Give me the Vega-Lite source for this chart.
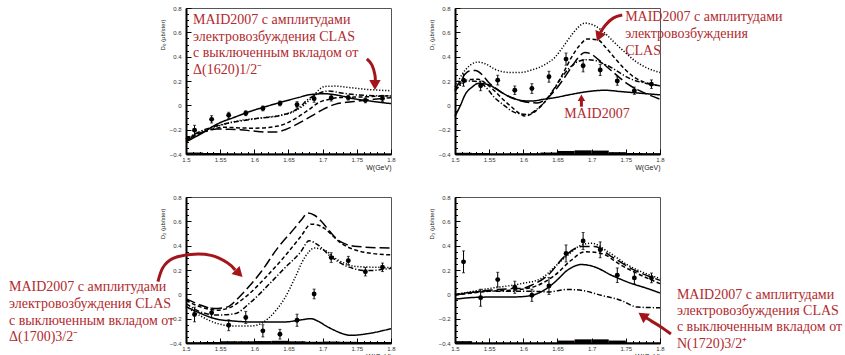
{
"$schema": "https://vega.github.io/schema/vega-lite/v6.json",
"padding": {"left": 8, "top": 4, "right": 5, "bottom": 5},
"background": "white",
"config": {"view": {"stroke": "#555", "strokeWidth": 1}},
"columns": 2,
"spacing": {"row": 43, "column": 64},
"bounds": "flush",
"datasets": {
"s0": [{"W0":1.5,"W1":1.525,"top":-0.388},{"W0":1.525,"W1":1.55,"top":-0.392},{"W0":1.55,"W1":1.575,"top":-0.395},{"W0":1.575,"W1":1.6,"top":-0.397},{"W0":1.6,"W1":1.625,"top":-0.397},{"W0":1.625,"W1":1.65,"top":-0.397},{"W0":1.65,"W1":1.675,"top":-0.396},{"W0":1.675,"W1":1.7,"top":-0.396},{"W0":1.7,"W1":1.725,"top":-0.396},{"W0":1.725,"W1":1.75,"top":-0.397},{"W0":1.75,"W1":1.775,"top":-0.397},{"W0":1.775,"W1":1.8,"top":-0.397}],
"s1": [{"W0":1.5,"W1":1.525,"top":-0.39},{"W0":1.525,"W1":1.55,"top":-0.392},{"W0":1.55,"W1":1.575,"top":-0.395},{"W0":1.575,"W1":1.6,"top":-0.395},{"W0":1.6,"W1":1.625,"top":-0.394},{"W0":1.625,"W1":1.65,"top":-0.388},{"W0":1.65,"W1":1.675,"top":-0.375},{"W0":1.675,"W1":1.7,"top":-0.37},{"W0":1.7,"W1":1.725,"top":-0.372},{"W0":1.725,"W1":1.75,"top":-0.385},{"W0":1.75,"W1":1.775,"top":-0.392},{"W0":1.775,"W1":1.8,"top":-0.394}],
"s2": [{"W0":1.5,"W1":1.525,"top":-0.394},{"W0":1.525,"W1":1.55,"top":-0.392},{"W0":1.55,"W1":1.575,"top":-0.386},{"W0":1.575,"W1":1.6,"top":-0.386},{"W0":1.6,"W1":1.625,"top":-0.384},{"W0":1.625,"W1":1.65,"top":-0.382},{"W0":1.65,"W1":1.675,"top":-0.386},{"W0":1.675,"W1":1.7,"top":-0.39},{"W0":1.7,"W1":1.725,"top":-0.388},{"W0":1.725,"W1":1.75,"top":-0.39},{"W0":1.75,"W1":1.775,"top":-0.392},{"W0":1.775,"W1":1.8,"top":-0.392}],
"s3": [{"W0":1.5,"W1":1.525,"top":-0.385},{"W0":1.525,"W1":1.55,"top":-0.396},{"W0":1.55,"W1":1.575,"top":-0.396},{"W0":1.575,"W1":1.6,"top":-0.396},{"W0":1.6,"W1":1.625,"top":-0.396},{"W0":1.625,"W1":1.65,"top":-0.396},{"W0":1.65,"W1":1.675,"top":-0.38},{"W0":1.675,"W1":1.7,"top":-0.37},{"W0":1.7,"W1":1.725,"top":-0.37},{"W0":1.725,"W1":1.75,"top":-0.38},{"W0":1.75,"W1":1.775,"top":-0.396},{"W0":1.775,"W1":1.8,"top":-0.396}],
"p0": [{"W":1.5125,"y":-0.204,"e":0.04},{"W":1.5375,"y":-0.115,"e":0.03},{"W":1.5625,"y":-0.082,"e":0.025},{"W":1.5875,"y":-0.065,"e":0.02},{"W":1.6125,"y":-0.025,"e":0.02},{"W":1.6375,"y":0.016,"e":0.02},{"W":1.6625,"y":0.005,"e":0.025},{"W":1.6875,"y":0.055,"e":0.03},{"W":1.7125,"y":0.06,"e":0.025},{"W":1.7375,"y":0.063,"e":0.02},{"W":1.7625,"y":0.041,"e":0.02},{"W":1.7875,"y":0.057,"e":0.025}],
"p1": [{"W":1.5125,"y":0.207,"e":0.05},{"W":1.5375,"y":0.16,"e":0.04},{"W":1.5625,"y":0.207,"e":0.04},{"W":1.5875,"y":0.124,"e":0.035},{"W":1.6125,"y":0.138,"e":0.04},{"W":1.6375,"y":0.235,"e":0.045},{"W":1.6625,"y":0.38,"e":0.05},{"W":1.6875,"y":0.325,"e":0.05},{"W":1.7125,"y":0.29,"e":0.045},{"W":1.7375,"y":0.2,"e":0.035},{"W":1.7625,"y":0.12,"e":0.03},{"W":1.7875,"y":0.174,"e":0.035}],
"p2": [{"W":1.5125,"y":-0.166,"e":0.06},{"W":1.5375,"y":-0.152,"e":0.04},{"W":1.5625,"y":-0.254,"e":0.045},{"W":1.5875,"y":-0.19,"e":0.05},{"W":1.6125,"y":-0.3,"e":0.05},{"W":1.6375,"y":-0.328,"e":0.04},{"W":1.6625,"y":-0.213,"e":0.05},{"W":1.6875,"y":0.003,"e":0.04},{"W":1.7125,"y":0.302,"e":0.04},{"W":1.7375,"y":0.277,"e":0.035},{"W":1.7625,"y":0.186,"e":0.035},{"W":1.7875,"y":0.222,"e":0.035}],
"p3": [{"W":1.5125,"y":0.267,"e":0.09},{"W":1.5375,"y":-0.028,"e":0.07},{"W":1.5625,"y":0.121,"e":0.06},{"W":1.5875,"y":0.058,"e":0.05},{"W":1.6125,"y":-0.008,"e":0.05},{"W":1.6375,"y":0.069,"e":0.07},{"W":1.6625,"y":0.336,"e":0.07},{"W":1.6875,"y":0.438,"e":0.07},{"W":1.7125,"y":0.366,"e":0.065},{"W":1.7375,"y":0.157,"e":0.06},{"W":1.7625,"y":0.135,"e":0.05},{"W":1.7875,"y":0.135,"e":0.04}],
"c0": [
{"m":"MAID2007","W":1.5,"y":-0.3},{"m":"MAID2007","W":1.52,"y":-0.24},{"m":"MAID2007","W":1.547,"y":-0.15},{"m":"MAID2007","W":1.57,"y":-0.1},{"m":"MAID2007","W":1.596,"y":-0.046},{"m":"MAID2007","W":1.62,"y":-0.005},{"m":"MAID2007","W":1.645,"y":0.035},{"m":"MAID2007","W":1.665,"y":0.065},{"m":"MAID2007","W":1.684,"y":0.09},{"m":"MAID2007","W":1.703,"y":0.095},{"m":"MAID2007","W":1.725,"y":0.08},{"m":"MAID2007","W":1.743,"y":0.057},{"m":"MAID2007","W":1.77,"y":0.035},{"m":"MAID2007","W":1.8,"y":0.014},
{"m":"noD1700","W":1.5,"y":-0.29},{"m":"noD1700","W":1.527,"y":-0.217},{"m":"noD1700","W":1.545,"y":-0.195},{"m":"noD1700","W":1.561,"y":-0.196},{"m":"noD1700","W":1.58,"y":-0.2},{"m":"noD1700","W":1.596,"y":-0.21},{"m":"noD1700","W":1.615,"y":-0.22},{"m":"noD1700","W":1.63,"y":-0.22},{"m":"noD1700","W":1.645,"y":-0.2},{"m":"noD1700","W":1.659,"y":-0.165},{"m":"noD1700","W":1.672,"y":-0.125},{"m":"noD1700","W":1.684,"y":-0.087},{"m":"noD1700","W":1.7,"y":-0.035},{"m":"noD1700","W":1.718,"y":0.008},{"m":"noD1700","W":1.735,"y":0.025},{"m":"noD1700","W":1.752,"y":0.035},{"m":"noD1700","W":1.775,"y":0.05},{"m":"noD1700","W":1.8,"y":0.063},
{"m":"CLAS","W":1.5,"y":-0.277},{"m":"CLAS","W":1.53,"y":-0.21},{"m":"CLAS","W":1.556,"y":-0.18},{"m":"CLAS","W":1.58,"y":-0.186},{"m":"CLAS","W":1.6,"y":-0.188},{"m":"CLAS","W":1.635,"y":-0.17},{"m":"CLAS","W":1.65,"y":-0.14},{"m":"CLAS","W":1.664,"y":-0.095},{"m":"CLAS","W":1.68,"y":-0.035},{"m":"CLAS","W":1.694,"y":0.022},{"m":"CLAS","W":1.71,"y":0.05},{"m":"CLAS","W":1.723,"y":0.063},{"m":"CLAS","W":1.762,"y":0.07},{"m":"CLAS","W":1.8,"y":0.08},
{"m":"noD1620","W":1.5,"y":-0.28},{"m":"noD1620","W":1.525,"y":-0.21},{"m":"noD1620","W":1.547,"y":-0.17},{"m":"noD1620","W":1.576,"y":-0.128},{"m":"noD1620","W":1.615,"y":-0.1},{"m":"noD1620","W":1.64,"y":-0.08},{"m":"noD1620","W":1.654,"y":-0.06},{"m":"noD1620","W":1.67,"y":-0.01},{"m":"noD1620","W":1.684,"y":0.063},{"m":"noD1620","W":1.695,"y":0.13},{"m":"noD1620","W":1.703,"y":0.155},{"m":"noD1620","W":1.72,"y":0.158},{"m":"noD1620","W":1.733,"y":0.15},{"m":"noD1620","W":1.767,"y":0.13},{"m":"noD1620","W":1.8,"y":0.12},
{"m":"noN1720","W":1.5,"y":-0.275},{"m":"noN1720","W":1.525,"y":-0.205},{"m":"noN1720","W":1.547,"y":-0.165},{"m":"noN1720","W":1.596,"y":-0.115},{"m":"noN1720","W":1.645,"y":-0.074},{"m":"noN1720","W":1.665,"y":-0.02},{"m":"noN1720","W":1.679,"y":0.05},{"m":"noN1720","W":1.695,"y":0.1},{"m":"noN1720","W":1.708,"y":0.117},{"m":"noN1720","W":1.73,"y":0.1},{"m":"noN1720","W":1.752,"y":0.085},{"m":"noN1720","W":1.8,"y":0.076}],
"c1": [
{"m":"MAID2007","W":1.5,"y":-0.09},{"m":"MAID2007","W":1.508,"y":0.0},{"m":"MAID2007","W":1.515,"y":0.09},{"m":"MAID2007","W":1.525,"y":0.15},{"m":"MAID2007","W":1.534,"y":0.18},{"m":"MAID2007","W":1.549,"y":0.17},{"m":"MAID2007","W":1.56,"y":0.135},{"m":"MAID2007","W":1.573,"y":0.09},{"m":"MAID2007","W":1.585,"y":0.06},{"m":"MAID2007","W":1.597,"y":0.04},{"m":"MAID2007","W":1.612,"y":0.035},{"m":"MAID2007","W":1.63,"y":0.05},{"m":"MAID2007","W":1.646,"y":0.063},{"m":"MAID2007","W":1.67,"y":0.09},{"m":"MAID2007","W":1.694,"y":0.113},{"m":"MAID2007","W":1.719,"y":0.124},{"m":"MAID2007","W":1.743,"y":0.113},{"m":"MAID2007","W":1.77,"y":0.1},{"m":"MAID2007","W":1.8,"y":0.086},
{"m":"noD1700","W":1.5,"y":0.13},{"m":"noD1700","W":1.51,"y":0.22},{"m":"noD1700","W":1.52,"y":0.28},{"m":"noD1700","W":1.53,"y":0.286},{"m":"noD1700","W":1.54,"y":0.25},{"m":"noD1700","W":1.549,"y":0.19},{"m":"noD1700","W":1.56,"y":0.14},{"m":"noD1700","W":1.573,"y":0.09},{"m":"noD1700","W":1.597,"y":0.036},{"m":"noD1700","W":1.62,"y":0.02},{"m":"noD1700","W":1.633,"y":0.05},{"m":"noD1700","W":1.646,"y":0.12},{"m":"noD1700","W":1.658,"y":0.21},{"m":"noD1700","W":1.67,"y":0.31},{"m":"noD1700","W":1.68,"y":0.39},{"m":"noD1700","W":1.69,"y":0.435},{"m":"noD1700","W":1.7,"y":0.42},{"m":"noD1700","W":1.709,"y":0.38},{"m":"noD1700","W":1.729,"y":0.284},{"m":"noD1700","W":1.753,"y":0.174},{"m":"noD1700","W":1.782,"y":0.09},{"m":"noD1700","W":1.8,"y":0.05},
{"m":"CLAS","W":1.5,"y":0.12},{"m":"CLAS","W":1.515,"y":0.207},{"m":"CLAS","W":1.534,"y":0.215},{"m":"CLAS","W":1.545,"y":0.18},{"m":"CLAS","W":1.558,"y":0.118},{"m":"CLAS","W":1.57,"y":0.05},{"m":"CLAS","W":1.583,"y":-0.014},{"m":"CLAS","W":1.595,"y":-0.07},{"m":"CLAS","W":1.602,"y":-0.088},{"m":"CLAS","W":1.612,"y":-0.07},{"m":"CLAS","W":1.621,"y":-0.033},{"m":"CLAS","W":1.633,"y":0.04},{"m":"CLAS","W":1.646,"y":0.14},{"m":"CLAS","W":1.658,"y":0.26},{"m":"CLAS","W":1.67,"y":0.39},{"m":"CLAS","W":1.682,"y":0.49},{"m":"CLAS","W":1.694,"y":0.546},{"m":"CLAS","W":1.709,"y":0.538},{"m":"CLAS","W":1.72,"y":0.48},{"m":"CLAS","W":1.733,"y":0.394},{"m":"CLAS","W":1.748,"y":0.3},{"m":"CLAS","W":1.763,"y":0.228},{"m":"CLAS","W":1.78,"y":0.185},{"m":"CLAS","W":1.8,"y":0.16},
{"m":"noD1620","W":1.5,"y":0.15},{"m":"noD1620","W":1.515,"y":0.29},{"m":"noD1620","W":1.534,"y":0.356},{"m":"noD1620","W":1.545,"y":0.34},{"m":"noD1620","W":1.558,"y":0.298},{"m":"noD1620","W":1.58,"y":0.27},{"m":"noD1620","W":1.595,"y":0.27},{"m":"noD1620","W":1.612,"y":0.29},{"m":"noD1620","W":1.63,"y":0.33},{"m":"noD1620","W":1.646,"y":0.394},{"m":"noD1620","W":1.658,"y":0.48},{"m":"noD1620","W":1.67,"y":0.574},{"m":"noD1620","W":1.68,"y":0.64},{"m":"noD1620","W":1.69,"y":0.676},{"m":"noD1620","W":1.704,"y":0.656},{"m":"noD1620","W":1.72,"y":0.59},{"m":"noD1620","W":1.733,"y":0.518},{"m":"noD1620","W":1.748,"y":0.44},{"m":"noD1620","W":1.763,"y":0.367},{"m":"noD1620","W":1.78,"y":0.31},{"m":"noD1620","W":1.8,"y":0.27},
{"m":"noN1720","W":1.5,"y":0.12},{"m":"noN1720","W":1.52,"y":0.2},{"m":"noN1720","W":1.534,"y":0.195},{"m":"noN1720","W":1.545,"y":0.15},{"m":"noN1720","W":1.558,"y":0.063},{"m":"noN1720","W":1.572,"y":0.0},{"m":"noN1720","W":1.588,"y":-0.06},{"m":"noN1720","W":1.607,"y":-0.075},{"m":"noN1720","W":1.62,"y":-0.03},{"m":"noN1720","W":1.63,"y":0.02},{"m":"noN1720","W":1.643,"y":0.12},{"m":"noN1720","W":1.656,"y":0.23},{"m":"noN1720","W":1.668,"y":0.31},{"m":"noN1720","W":1.68,"y":0.36},{"m":"noN1720","W":1.692,"y":0.375},{"m":"noN1720","W":1.704,"y":0.37},{"m":"noN1720","W":1.716,"y":0.345},{"m":"noN1720","W":1.729,"y":0.31},{"m":"noN1720","W":1.743,"y":0.26},{"m":"noN1720","W":1.758,"y":0.215},{"m":"noN1720","W":1.78,"y":0.18},{"m":"noN1720","W":1.8,"y":0.16}],
"c2": [
{"m":"MAID2007","W":1.5,"y":-0.1},{"m":"MAID2007","W":1.522,"y":-0.158},{"m":"MAID2007","W":1.546,"y":-0.205},{"m":"MAID2007","W":1.571,"y":-0.22},{"m":"MAID2007","W":1.595,"y":-0.227},{"m":"MAID2007","W":1.62,"y":-0.227},{"m":"MAID2007","W":1.644,"y":-0.227},{"m":"MAID2007","W":1.668,"y":-0.21},{"m":"MAID2007","W":1.683,"y":-0.2},{"m":"MAID2007","W":1.693,"y":-0.22},{"m":"MAID2007","W":1.705,"y":-0.26},{"m":"MAID2007","W":1.717,"y":-0.295},{"m":"MAID2007","W":1.73,"y":-0.325},{"m":"MAID2007","W":1.741,"y":-0.337},{"m":"MAID2007","W":1.766,"y":-0.323},{"m":"MAID2007","W":1.8,"y":-0.282},
{"m":"noD1700","W":1.5,"y":-0.035},{"m":"noD1700","W":1.522,"y":-0.09},{"m":"noD1700","W":1.541,"y":-0.117},{"m":"noD1700","W":1.561,"y":-0.103},{"m":"noD1700","W":1.573,"y":-0.05},{"m":"noD1700","W":1.585,"y":0.02},{"m":"noD1700","W":1.61,"y":0.185},{"m":"noD1700","W":1.634,"y":0.38},{"m":"noD1700","W":1.659,"y":0.544},{"m":"noD1700","W":1.67,"y":0.62},{"m":"noD1700","W":1.678,"y":0.668},{"m":"noD1700","W":1.688,"y":0.65},{"m":"noD1700","W":1.698,"y":0.6},{"m":"noD1700","W":1.71,"y":0.52},{"m":"noD1700","W":1.722,"y":0.447},{"m":"noD1700","W":1.735,"y":0.41},{"m":"noD1700","W":1.751,"y":0.393},{"m":"noD1700","W":1.8,"y":0.38},
{"m":"CLAS","W":1.5,"y":-0.05},{"m":"CLAS","W":1.522,"y":-0.105},{"m":"CLAS","W":1.546,"y":-0.13},{"m":"CLAS","W":1.566,"y":-0.105},{"m":"CLAS","W":1.578,"y":-0.06},{"m":"CLAS","W":1.59,"y":-0.008},{"m":"CLAS","W":1.615,"y":0.13},{"m":"CLAS","W":1.644,"y":0.31},{"m":"CLAS","W":1.668,"y":0.475},{"m":"CLAS","W":1.683,"y":0.577},{"m":"CLAS","W":1.693,"y":0.57},{"m":"CLAS","W":1.702,"y":0.544},{"m":"CLAS","W":1.715,"y":0.48},{"m":"CLAS","W":1.727,"y":0.42},{"m":"CLAS","W":1.745,"y":0.37},{"m":"CLAS","W":1.761,"y":0.346},{"m":"CLAS","W":1.8,"y":0.324},
{"m":"noD1620","W":1.5,"y":-0.1},{"m":"noD1620","W":1.522,"y":-0.18},{"m":"noD1620","W":1.546,"y":-0.24},{"m":"noD1620","W":1.571,"y":-0.26},{"m":"noD1620","W":1.595,"y":-0.26},{"m":"noD1620","W":1.61,"y":-0.24},{"m":"noD1620","W":1.62,"y":-0.2},{"m":"noD1620","W":1.632,"y":-0.13},{"m":"noD1620","W":1.644,"y":-0.036},{"m":"noD1620","W":1.659,"y":0.13},{"m":"noD1620","W":1.673,"y":0.296},{"m":"noD1620","W":1.688,"y":0.38},{"m":"noD1620","W":1.702,"y":0.365},{"m":"noD1620","W":1.722,"y":0.283},{"m":"noD1620","W":1.751,"y":0.228},{"m":"noD1620","W":1.8,"y":0.22},
{"m":"noN1720","W":1.5,"y":-0.077},{"m":"noN1720","W":1.522,"y":-0.146},{"m":"noN1720","W":1.546,"y":-0.17},{"m":"noN1720","W":1.571,"y":-0.16},{"m":"noN1720","W":1.595,"y":-0.063},{"m":"noN1720","W":1.62,"y":0.074},{"m":"noN1720","W":1.644,"y":0.214},{"m":"noN1720","W":1.668,"y":0.35},{"m":"noN1720","W":1.68,"y":0.44},{"m":"noN1720","W":1.693,"y":0.406},{"m":"noN1720","W":1.712,"y":0.31},{"m":"noN1720","W":1.737,"y":0.227},{"m":"noN1720","W":1.766,"y":0.195},{"m":"noN1720","W":1.8,"y":0.214}],
"c3": [
{"m":"MAID2007","W":1.5,"y":-0.04},{"m":"MAID2007","W":1.53,"y":-0.025},{"m":"MAID2007","W":1.56,"y":-0.022},{"m":"MAID2007","W":1.583,"y":-0.022},{"m":"MAID2007","W":1.607,"y":-0.014},{"m":"MAID2007","W":1.626,"y":0.02},{"m":"MAID2007","W":1.646,"y":0.1},{"m":"MAID2007","W":1.665,"y":0.2},{"m":"MAID2007","W":1.685,"y":0.245},{"m":"MAID2007","W":1.704,"y":0.226},{"m":"MAID2007","W":1.729,"y":0.157},{"m":"MAID2007","W":1.753,"y":0.1},{"m":"MAID2007","W":1.782,"y":0.047},{"m":"MAID2007","W":1.8,"y":0.011},
{"m":"noD1700","W":1.5,"y":-0.005},{"m":"noD1700","W":1.549,"y":0.033},{"m":"noD1700","W":1.583,"y":0.047},{"m":"noD1700","W":1.6,"y":0.05},{"m":"noD1700","W":1.612,"y":0.075},{"m":"noD1700","W":1.636,"y":0.157},{"m":"noD1700","W":1.66,"y":0.31},{"m":"noD1700","W":1.685,"y":0.393},{"m":"noD1700","W":1.704,"y":0.393},{"m":"noD1700","W":1.729,"y":0.31},{"m":"noD1700","W":1.758,"y":0.212},{"m":"noD1700","W":1.8,"y":0.115},
{"m":"CLAS","W":1.5,"y":-0.005},{"m":"CLAS","W":1.549,"y":0.025},{"m":"CLAS","W":1.597,"y":0.041},{"m":"CLAS","W":1.621,"y":0.074},{"m":"CLAS","W":1.646,"y":0.157},{"m":"CLAS","W":1.67,"y":0.28},{"m":"CLAS","W":1.69,"y":0.35},{"m":"CLAS","W":1.714,"y":0.336},{"m":"CLAS","W":1.743,"y":0.24},{"m":"CLAS","W":1.772,"y":0.157},{"m":"CLAS","W":1.8,"y":0.088},
{"m":"noD1620","W":1.5,"y":-0.003},{"m":"noD1620","W":1.549,"y":0.047},{"m":"noD1620","W":1.597,"y":0.088},{"m":"noD1620","W":1.626,"y":0.13},{"m":"noD1620","W":1.646,"y":0.226},{"m":"noD1620","W":1.665,"y":0.322},{"m":"noD1620","W":1.685,"y":0.405},{"m":"noD1620","W":1.7,"y":0.42},{"m":"noD1620","W":1.724,"y":0.35},{"m":"noD1620","W":1.753,"y":0.24},{"m":"noD1620","W":1.8,"y":0.13},
{"m":"noN1720","W":1.5,"y":0.0},{"m":"noN1720","W":1.53,"y":0.02},{"m":"noN1720","W":1.549,"y":0.025},{"m":"noN1720","W":1.583,"y":0.025},{"m":"noN1720","W":1.612,"y":0.025},{"m":"noN1720","W":1.636,"y":0.02},{"m":"noN1720","W":1.665,"y":0.04},{"m":"noN1720","W":1.685,"y":0.033},{"m":"noN1720","W":1.714,"y":-0.008},{"m":"noN1720","W":1.743,"y":-0.05},{"m":"noN1720","W":1.767,"y":-0.105},{"m":"noN1720","W":1.8,"y":-0.11}],
"t0": [{"W":1.5103,"y":0.669,"t":"MAID2007 с амплитудами\nэлектровозбуждения CLAS\nс выключенным вкладом от\nΔ(1620)1/2⁻"}],
"t1": [{"W":1.749,"y":0.692,"t":"MAID2007 с амплитудами\nэлектровозбуждения\nCLAS"},{"W":1.66,"y":-0.102,"t":"MAID2007"}],
"t2": [{"W":1.241,"y":0.026,"t":"MAID2007 с амплитудами\nэлектровозбуждения CLAS\nс выключенным вкладом от\nΔ(1700)3/2⁻"}],
"t3": [{"W":1.8247,"y":-0.036,"t":"MAID2007 с амплитудами\nэлектровозбуждения CLAS\nс выключенным вкладом от\nN(1720)3/2⁺"}],
"r0": [{"a":"A","k":0,"W":1.7647,"y":0.381},{"a":"A","k":1,"W":1.772,"y":0.332},{"a":"A","k":2,"W":1.7765,"y":0.249},{"a":"A","k":3,"W":1.777,"y":0.19}],
"r1": [{"a":"A","k":0,"W":1.7447,"y":0.742},{"a":"A","k":1,"W":1.7315,"y":0.717},{"a":"A","k":2,"W":1.72,"y":0.659},{"a":"A","k":3,"W":1.713,"y":0.6},{"a":"B","k":0,"W":1.685,"y":-0.011},{"a":"B","k":1,"W":1.685,"y":0.05}],
"r2": [{"a":"A","k":0,"W":1.459,"y":0.105},{"a":"A","k":1,"W":1.4663,"y":0.221},{"a":"A","k":2,"W":1.481,"y":0.295},{"a":"A","k":3,"W":1.507,"y":0.328},{"a":"A","k":4,"W":1.5366,"y":0.32},{"a":"A","k":5,"W":1.56,"y":0.262},{"a":"A","k":6,"W":1.572,"y":0.2}],
"r3": [{"a":"A","k":0,"W":1.816,"y":-0.326},{"a":"A","k":1,"W":1.8015,"y":-0.268},{"a":"A","k":2,"W":1.787,"y":-0.218},{"a":"A","k":3,"W":1.779,"y":-0.19}]
},
"concat": [
{"width":205,"height":146,"layer":[
 {"data":{"name":"s0"},"mark":{"type":"rect","color":"black"},"encoding":{
  "x":{"field":"W0","type":"quantitative","scale":{"domain":[1.5,1.8],"nice":false,"zero":false},"axis":{"orient":"bottom","title":"W(GeV)","titleAnchor":"end","titleFontSize":7,"titleFontWeight":"normal","titleFont":"Liberation Sans","titleColor":"#222","titlePadding":1,"values":[1.5,1.55,1.6,1.65,1.7,1.75,1.8],"format":".2~f","ticks":false,"labelFontSize":6,"labelFont":"Liberation Sans","labelColor":"#333","labelPadding":2,"domainColor":"black","domainWidth":2,"grid":false,"labelOverlap":false,"labelFlush":false}},
  "x2":{"field":"W1"},
  "y":{"field":"top","type":"quantitative","scale":{"domain":[-0.4,0.8],"nice":false,"zero":false},"axis":{"orient":"left","title":"D₀ (μb/ster)","titleAnchor":"end","titleY":11,"titleFontSize":6,"titleFontWeight":"normal","titleFont":"Liberation Sans","titleColor":"#222","titlePadding":4,"values":[-0.4,-0.2,0,0.2,0.4,0.6,0.8],"format":".1~f","ticks":false,"labelFontSize":6,"labelFont":"Liberation Sans","labelColor":"#333","labelPadding":5,"domainColor":"black","domainWidth":2,"grid":false,"labelOverlap":false,"labelFlush":false}},
  "y2":{"datum":-0.4}}},
 {"data":{"name":"c0"},"mark":{"type":"line","interpolate":"monotone","color":"black","strokeWidth":1.5},"encoding":{"x":{"field":"W","type":"quantitative","axis":{"orient":"top","offset":-146,"values":[1.5,1.55,1.6,1.65,1.7,1.75,1.8],"labels":false,"tickSize":5,"tickColor":"black","domain":false,"grid":false,"title":null}},"y":{"field":"y","type":"quantitative","axis":{"orient":"right","offset":-205,"values":[-0.4,-0.2,0,0.2,0.4,0.6,0.8],"labels":false,"tickSize":5,"tickColor":"black","domain":false,"grid":false,"title":null}},"strokeDash":{"field":"m","type":"nominal","scale":{"domain":["MAID2007","CLAS","noD1620","noD1700","noN1720"],"range":[[1,0],[4,2.5],[1.2,1.8],[10,4],[5,2,1.2,2]]},"legend":null}}},
 {"data":{"name":"p0"},"mark":{"type":"errorbar","color":"black","thickness":1,"ticks":{"size":3}},"encoding":{"x":{"field":"W","type":"quantitative","axis":null},"y":{"field":"y","type":"quantitative","axis":null},"yError":{"field":"e"}}},
 {"data":{"name":"p0"},"mark":{"type":"point","filled":true,"color":"black","opacity":1,"size":24},"encoding":{"x":{"field":"W","type":"quantitative","axis":{"orient":"top","offset":-146,"values":[1.51,1.52,1.53,1.54,1.56,1.57,1.58,1.59,1.61,1.62,1.63,1.64,1.66,1.67,1.68,1.69,1.71,1.72,1.73,1.74,1.76,1.77,1.78,1.79],"labels":false,"tickSize":2.5,"tickColor":"black","domain":false,"grid":false,"title":null}},"y":{"field":"y","type":"quantitative","axis":{"orient":"right","offset":-205,"values":[-0.35,-0.3,-0.25,-0.15,-0.1,-0.05,0.05,0.1,0.15,0.25,0.3,0.35,0.45,0.5,0.55,0.65,0.7,0.75],"labels":false,"tickSize":2.5,"tickColor":"black","domain":false,"grid":false,"title":null}}}},
 {"data":{"name":"t0"},"mark":{"type":"text","lineBreak":"\n","align":"left","baseline":"alphabetic","font":"Liberation Serif","fontSize":14,"lineHeight":16.7,"color":"#b12a2e"},"encoding":{"x":{"field":"W","type":"quantitative","axis":null},"y":{"field":"y","type":"quantitative","axis":null},"text":{"field":"t"}}},
 {"data":{"name":"r0"},"mark":{"type":"line","interpolate":"cardinal","color":"#a3151b","strokeWidth":3},"encoding":{"x":{"field":"W","type":"quantitative","axis":null},"y":{"field":"y","type":"quantitative","axis":null},"detail":{"field":"a"},"order":{"field":"k"}}},
 {"data":{"values":[{"W":1.7765,"y":0.167}]},"mark":{"type":"point","shape":"triangle-down","filled":true,"opacity":1,"color":"#a3151b","size":130,"angle":0},"encoding":{"x":{"field":"W","type":"quantitative","axis":null},"y":{"field":"y","type":"quantitative","axis":null}}}
]},
{"width":205,"height":146,"layer":[
 {"data":{"name":"s1"},"mark":{"type":"rect","color":"black"},"encoding":{
  "x":{"field":"W0","type":"quantitative","scale":{"domain":[1.5,1.8],"nice":false,"zero":false},"axis":{"orient":"bottom","title":"W(GeV)","titleAnchor":"end","titleFontSize":7,"titleFontWeight":"normal","titleFont":"Liberation Sans","titleColor":"#222","titlePadding":1,"values":[1.5,1.55,1.6,1.65,1.7,1.75,1.8],"format":".2~f","ticks":false,"labelFontSize":6,"labelFont":"Liberation Sans","labelColor":"#333","labelPadding":2,"domainColor":"black","domainWidth":2,"grid":false,"labelOverlap":false,"labelFlush":false}},
  "x2":{"field":"W1"},
  "y":{"field":"top","type":"quantitative","scale":{"domain":[-0.4,0.8],"nice":false,"zero":false},"axis":{"orient":"left","title":"D₁ (μb/ster)","titleAnchor":"end","titleY":11,"titleFontSize":6,"titleFontWeight":"normal","titleFont":"Liberation Sans","titleColor":"#222","titlePadding":4,"values":[-0.4,-0.2,0,0.2,0.4,0.6,0.8],"format":".1~f","ticks":false,"labelFontSize":6,"labelFont":"Liberation Sans","labelColor":"#333","labelPadding":5,"domainColor":"black","domainWidth":2,"grid":false,"labelOverlap":false,"labelFlush":false}},
  "y2":{"datum":-0.4}}},
 {"data":{"name":"c1"},"mark":{"type":"line","interpolate":"monotone","color":"black","strokeWidth":1.5},"encoding":{"x":{"field":"W","type":"quantitative","axis":{"orient":"top","offset":-146,"values":[1.5,1.55,1.6,1.65,1.7,1.75,1.8],"labels":false,"tickSize":5,"tickColor":"black","domain":false,"grid":false,"title":null}},"y":{"field":"y","type":"quantitative","axis":{"orient":"right","offset":-205,"values":[-0.4,-0.2,0,0.2,0.4,0.6,0.8],"labels":false,"tickSize":5,"tickColor":"black","domain":false,"grid":false,"title":null}},"strokeDash":{"field":"m","type":"nominal","scale":{"domain":["MAID2007","CLAS","noD1620","noD1700","noN1720"],"range":[[1,0],[4,2.5],[1.2,1.8],[10,4],[5,2,1.2,2]]},"legend":null}}},
 {"data":{"name":"p1"},"mark":{"type":"errorbar","color":"black","thickness":1,"ticks":{"size":3}},"encoding":{"x":{"field":"W","type":"quantitative","axis":null},"y":{"field":"y","type":"quantitative","axis":null},"yError":{"field":"e"}}},
 {"data":{"name":"p1"},"mark":{"type":"point","filled":true,"color":"black","opacity":1,"size":24},"encoding":{"x":{"field":"W","type":"quantitative","axis":{"orient":"top","offset":-146,"values":[1.51,1.52,1.53,1.54,1.56,1.57,1.58,1.59,1.61,1.62,1.63,1.64,1.66,1.67,1.68,1.69,1.71,1.72,1.73,1.74,1.76,1.77,1.78,1.79],"labels":false,"tickSize":2.5,"tickColor":"black","domain":false,"grid":false,"title":null}},"y":{"field":"y","type":"quantitative","axis":{"orient":"right","offset":-205,"values":[-0.35,-0.3,-0.25,-0.15,-0.1,-0.05,0.05,0.1,0.15,0.25,0.3,0.35,0.45,0.5,0.55,0.65,0.7,0.75],"labels":false,"tickSize":2.5,"tickColor":"black","domain":false,"grid":false,"title":null}}}},
 {"data":{"name":"t1"},"mark":{"type":"text","lineBreak":"\n","align":"left","baseline":"alphabetic","font":"Liberation Serif","fontSize":14,"lineHeight":16.7,"color":"#b12a2e"},"encoding":{"x":{"field":"W","type":"quantitative","axis":null},"y":{"field":"y","type":"quantitative","axis":null},"text":{"field":"t"}}},
 {"data":{"name":"r1"},"mark":{"type":"line","interpolate":"cardinal","color":"#a3151b","strokeWidth":3},"encoding":{"x":{"field":"W","type":"quantitative","axis":null},"y":{"field":"y","type":"quantitative","axis":null},"detail":{"field":"a"},"order":{"field":"k"}}},
 {"data":{"values":[{"W":1.7105,"y":0.565}]},"mark":{"type":"point","shape":"triangle-down","filled":true,"opacity":1,"color":"#a3151b","size":130,"angle":22},"encoding":{"x":{"field":"W","type":"quantitative","axis":null},"y":{"field":"y","type":"quantitative","axis":null}}},
 {"data":{"values":[{"W":1.685,"y":0.062}]},"mark":{"type":"point","shape":"triangle-up","filled":true,"opacity":1,"color":"#a3151b","size":55,"angle":0},"encoding":{"x":{"field":"W","type":"quantitative","axis":null},"y":{"field":"y","type":"quantitative","axis":null}}}
]},
{"width":205,"height":146,"layer":[
 {"data":{"name":"s2"},"mark":{"type":"rect","color":"black"},"encoding":{
  "x":{"field":"W0","type":"quantitative","scale":{"domain":[1.5,1.8],"nice":false,"zero":false},"axis":{"orient":"bottom","title":"W(GeV)","titleAnchor":"end","titleFontSize":7,"titleFontWeight":"normal","titleFont":"Liberation Sans","titleColor":"#222","titlePadding":1,"values":[1.5,1.55,1.6,1.65,1.7,1.75,1.8],"format":".2~f","ticks":false,"labelFontSize":6,"labelFont":"Liberation Sans","labelColor":"#333","labelPadding":2,"domainColor":"black","domainWidth":2,"grid":false,"labelOverlap":false,"labelFlush":false}},
  "x2":{"field":"W1"},
  "y":{"field":"top","type":"quantitative","scale":{"domain":[-0.4,0.8],"nice":false,"zero":false},"axis":{"orient":"left","title":"D₂ (μb/ster)","titleAnchor":"end","titleY":11,"titleFontSize":6,"titleFontWeight":"normal","titleFont":"Liberation Sans","titleColor":"#222","titlePadding":4,"values":[-0.4,-0.2,0,0.2,0.4,0.6,0.8],"format":".1~f","ticks":false,"labelFontSize":6,"labelFont":"Liberation Sans","labelColor":"#333","labelPadding":5,"domainColor":"black","domainWidth":2,"grid":false,"labelOverlap":false,"labelFlush":false}},
  "y2":{"datum":-0.4}}},
 {"data":{"name":"c2"},"mark":{"type":"line","interpolate":"monotone","color":"black","strokeWidth":1.5},"encoding":{"x":{"field":"W","type":"quantitative","axis":{"orient":"top","offset":-146,"values":[1.5,1.55,1.6,1.65,1.7,1.75,1.8],"labels":false,"tickSize":5,"tickColor":"black","domain":false,"grid":false,"title":null}},"y":{"field":"y","type":"quantitative","axis":{"orient":"right","offset":-205,"values":[-0.4,-0.2,0,0.2,0.4,0.6,0.8],"labels":false,"tickSize":5,"tickColor":"black","domain":false,"grid":false,"title":null}},"strokeDash":{"field":"m","type":"nominal","scale":{"domain":["MAID2007","CLAS","noD1620","noD1700","noN1720"],"range":[[1,0],[4,2.5],[1.2,1.8],[10,4],[5,2,1.2,2]]},"legend":null}}},
 {"data":{"name":"p2"},"mark":{"type":"errorbar","color":"black","thickness":1,"ticks":{"size":3}},"encoding":{"x":{"field":"W","type":"quantitative","axis":null},"y":{"field":"y","type":"quantitative","axis":null},"yError":{"field":"e"}}},
 {"data":{"name":"p2"},"mark":{"type":"point","filled":true,"color":"black","opacity":1,"size":24},"encoding":{"x":{"field":"W","type":"quantitative","axis":{"orient":"top","offset":-146,"values":[1.51,1.52,1.53,1.54,1.56,1.57,1.58,1.59,1.61,1.62,1.63,1.64,1.66,1.67,1.68,1.69,1.71,1.72,1.73,1.74,1.76,1.77,1.78,1.79],"labels":false,"tickSize":2.5,"tickColor":"black","domain":false,"grid":false,"title":null}},"y":{"field":"y","type":"quantitative","axis":{"orient":"right","offset":-205,"values":[-0.35,-0.3,-0.25,-0.15,-0.1,-0.05,0.05,0.1,0.15,0.25,0.3,0.35,0.45,0.5,0.55,0.65,0.7,0.75],"labels":false,"tickSize":2.5,"tickColor":"black","domain":false,"grid":false,"title":null}}}},
 {"data":{"name":"t2"},"mark":{"type":"text","lineBreak":"\n","align":"left","baseline":"alphabetic","font":"Liberation Serif","fontSize":14,"lineHeight":16.7,"color":"#b12a2e"},"encoding":{"x":{"field":"W","type":"quantitative","axis":null},"y":{"field":"y","type":"quantitative","axis":null},"text":{"field":"t"}}},
 {"data":{"name":"r2"},"mark":{"type":"line","interpolate":"cardinal","color":"#a3151b","strokeWidth":3},"encoding":{"x":{"field":"W","type":"quantitative","axis":null},"y":{"field":"y","type":"quantitative","axis":null},"detail":{"field":"a"},"order":{"field":"k"}}},
 {"data":{"values":[{"W":1.5776,"y":0.171}]},"mark":{"type":"point","shape":"triangle-down","filled":true,"opacity":1,"color":"#a3151b","size":130,"angle":-45},"encoding":{"x":{"field":"W","type":"quantitative","axis":null},"y":{"field":"y","type":"quantitative","axis":null}}}
]},
{"width":205,"height":146,"layer":[
 {"data":{"name":"s3"},"mark":{"type":"rect","color":"black"},"encoding":{
  "x":{"field":"W0","type":"quantitative","scale":{"domain":[1.5,1.8],"nice":false,"zero":false},"axis":{"orient":"bottom","title":"W(GeV)","titleAnchor":"end","titleFontSize":7,"titleFontWeight":"normal","titleFont":"Liberation Sans","titleColor":"#222","titlePadding":1,"values":[1.5,1.55,1.6,1.65,1.7,1.75,1.8],"format":".2~f","ticks":false,"labelFontSize":6,"labelFont":"Liberation Sans","labelColor":"#333","labelPadding":2,"domainColor":"black","domainWidth":2,"grid":false,"labelOverlap":false,"labelFlush":false}},
  "x2":{"field":"W1"},
  "y":{"field":"top","type":"quantitative","scale":{"domain":[-0.4,0.8],"nice":false,"zero":false},"axis":{"orient":"left","title":"D₃ (μb/ster)","titleAnchor":"end","titleY":11,"titleFontSize":6,"titleFontWeight":"normal","titleFont":"Liberation Sans","titleColor":"#222","titlePadding":4,"values":[-0.4,-0.2,0,0.2,0.4,0.6,0.8],"format":".1~f","ticks":false,"labelFontSize":6,"labelFont":"Liberation Sans","labelColor":"#333","labelPadding":5,"domainColor":"black","domainWidth":2,"grid":false,"labelOverlap":false,"labelFlush":false}},
  "y2":{"datum":-0.4}}},
 {"data":{"name":"c3"},"mark":{"type":"line","interpolate":"monotone","color":"black","strokeWidth":1.5},"encoding":{"x":{"field":"W","type":"quantitative","axis":{"orient":"top","offset":-146,"values":[1.5,1.55,1.6,1.65,1.7,1.75,1.8],"labels":false,"tickSize":5,"tickColor":"black","domain":false,"grid":false,"title":null}},"y":{"field":"y","type":"quantitative","axis":{"orient":"right","offset":-205,"values":[-0.4,-0.2,0,0.2,0.4,0.6,0.8],"labels":false,"tickSize":5,"tickColor":"black","domain":false,"grid":false,"title":null}},"strokeDash":{"field":"m","type":"nominal","scale":{"domain":["MAID2007","CLAS","noD1620","noD1700","noN1720"],"range":[[1,0],[4,2.5],[1.2,1.8],[10,4],[5,2,1.2,2]]},"legend":null}}},
 {"data":{"name":"p3"},"mark":{"type":"errorbar","color":"black","thickness":1,"ticks":{"size":3}},"encoding":{"x":{"field":"W","type":"quantitative","axis":null},"y":{"field":"y","type":"quantitative","axis":null},"yError":{"field":"e"}}},
 {"data":{"name":"p3"},"mark":{"type":"point","filled":true,"color":"black","opacity":1,"size":24},"encoding":{"x":{"field":"W","type":"quantitative","axis":{"orient":"top","offset":-146,"values":[1.51,1.52,1.53,1.54,1.56,1.57,1.58,1.59,1.61,1.62,1.63,1.64,1.66,1.67,1.68,1.69,1.71,1.72,1.73,1.74,1.76,1.77,1.78,1.79],"labels":false,"tickSize":2.5,"tickColor":"black","domain":false,"grid":false,"title":null}},"y":{"field":"y","type":"quantitative","axis":{"orient":"right","offset":-205,"values":[-0.35,-0.3,-0.25,-0.15,-0.1,-0.05,0.05,0.1,0.15,0.25,0.3,0.35,0.45,0.5,0.55,0.65,0.7,0.75],"labels":false,"tickSize":2.5,"tickColor":"black","domain":false,"grid":false,"title":null}}}},
 {"data":{"name":"t3"},"mark":{"type":"text","lineBreak":"\n","align":"left","baseline":"alphabetic","font":"Liberation Serif","fontSize":14,"lineHeight":16.3,"color":"#b12a2e"},"encoding":{"x":{"field":"W","type":"quantitative","axis":null},"y":{"field":"y","type":"quantitative","axis":null},"text":{"field":"t"}}},
 {"data":{"name":"r3"},"mark":{"type":"line","interpolate":"cardinal","color":"#a3151b","strokeWidth":3},"encoding":{"x":{"field":"W","type":"quantitative","axis":null},"y":{"field":"y","type":"quantitative","axis":null},"detail":{"field":"a"},"order":{"field":"k"}}},
 {"data":{"values":[{"W":1.7745,"y":-0.175}]},"mark":{"type":"point","shape":"triangle-up","filled":true,"opacity":1,"color":"#a3151b","size":130,"angle":-55},"encoding":{"x":{"field":"W","type":"quantitative","axis":null},"y":{"field":"y","type":"quantitative","axis":null}}}
]}
]
}
